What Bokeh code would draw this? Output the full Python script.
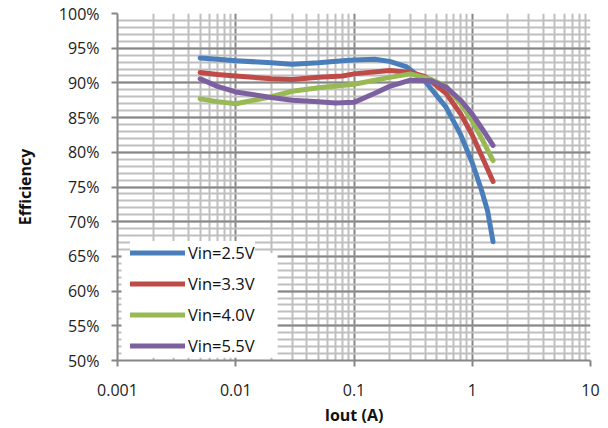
from bokeh.plotting import figure
from bokeh.models import FixedTicker, PrintfTickFormatter, CustomJSTickFormatter, Range1d, BoxAnnotation
from bokeh.embed import file_html
from bokeh.resources import INLINE

# ---- data ----
iout_25 = [0.005, 0.007, 0.01, 0.02, 0.03, 0.05, 0.08, 0.1, 0.15, 0.2, 0.28, 0.4, 0.6, 0.8, 1.0, 1.2, 1.35, 1.5]
eff_25 = [93.6, 93.4, 93.2, 92.9, 92.7, 92.9, 93.2, 93.3, 93.4, 93.1, 92.3, 90.2, 86.5, 82.5, 78.5, 74.5, 71.5, 67.1]

iout_33 = [0.005, 0.007, 0.01, 0.02, 0.03, 0.05, 0.08, 0.1, 0.2, 0.3, 0.4, 0.6, 0.8, 1.0, 1.2, 1.5]
eff_33 = [91.5, 91.2, 91.0, 90.6, 90.5, 90.8, 91.0, 91.3, 91.8, 91.5, 90.9, 88.5, 85.5, 82.5, 79.5, 75.8]

iout_40 = [0.005, 0.007, 0.01, 0.02, 0.03, 0.05, 0.1, 0.2, 0.3, 0.45, 0.6, 0.8, 1.0, 1.2, 1.5]
eff_40 = [87.7, 87.3, 87.0, 88.0, 88.8, 89.3, 89.8, 90.8, 91.3, 90.5, 89.5, 87.0, 84.5, 82.0, 78.8]

iout_55 = [0.005, 0.007, 0.01, 0.02, 0.03, 0.05, 0.07, 0.1, 0.15, 0.2, 0.3, 0.45, 0.6, 0.8, 1.0, 1.2, 1.5]
eff_55 = [90.6, 89.5, 88.7, 87.9, 87.5, 87.3, 87.1, 87.2, 88.5, 89.5, 90.4, 90.3, 89.4, 87.5, 85.5, 83.5, 81.0]

series_labels = ["Vin=2.5V", "Vin=3.3V", "Vin=4.0V", "Vin=5.5V"]
x_ticks = [0.001, 0.01, 0.1, 1, 10]
y_ticks = [50, 55, 60, 65, 70, 75, 80, 85, 90, 95, 100]

FONT = "Open Sans"

p = figure(width=608, height=428, x_axis_type="log",
           x_range=Range1d(0.001, 10), y_range=Range1d(50, 100),
           output_backend="svg", toolbar_location=None,
           min_border_left=117, min_border_right=18, min_border_top=13, min_border_bottom=67)
p.outline_line_color = None
p.background_fill_color = "white"
p.border_fill_color = "white"

x_minor = [m * d for d in [0.001, 0.01, 0.1, 1] for m in range(2, 10)]
y_minor = list(range(50, 101))
p.xaxis.ticker = FixedTicker(ticks=x_ticks, minor_ticks=x_minor)
p.yaxis.ticker = FixedTicker(ticks=y_ticks, minor_ticks=y_minor)
p.xaxis.formatter = CustomJSTickFormatter(code="return tick.toString();")
p.yaxis.formatter = PrintfTickFormatter(format="%d%%")

for g in (p.xgrid, p.ygrid):
    g.grid_line_color = "#878787"
    g.grid_line_width = 2
    g.minor_grid_line_color = "#BFBFBF"
    g.minor_grid_line_width = 2

for ax in (p.xaxis, p.yaxis):
    ax.axis_line_color = "#868686"
    ax.axis_line_width = 2
    ax.major_tick_line_color = "#868686"
    ax.major_tick_line_width = 2
    ax.major_tick_out = 6
    ax.major_tick_in = 0
    ax.minor_tick_line_color = None
    ax.major_label_text_font = FONT
    ax.major_label_text_font_size = "16px"
    ax.major_label_text_color = "#222222"
    ax.axis_label_text_font = FONT
    ax.axis_label_text_font_size = "16px"
    ax.axis_label_text_font_style = "bold"
    ax.axis_label_text_color = "#111111"

p.xaxis.axis_label = "Iout (A)"
p.yaxis.axis_label = "Efficiency"
p.yaxis.major_label_standoff = 12
p.xaxis.major_label_standoff = 17
p.yaxis.axis_label_standoff = 20
p.xaxis.axis_label_standoff = 5

# white legend panel behind the legend entries
p.add_layout(BoxAnnotation(left=0.00108, right=0.0226, bottom=50.4, top=65.5,
                           fill_color="white", fill_alpha=1.0, line_color=None,
                           level="annotation"))

colors = ["#4A7EBB", "#BE4B48", "#98B954", "#7D60A0"]
data = [(iout_25, eff_25), (iout_33, eff_33), (iout_40, eff_40), (iout_55, eff_55)]
for (xs, ys), c, lab in zip(data, colors, series_labels):
    p.line(xs, ys, line_color=c, line_width=5, line_cap="round", line_join="round", legend_label=lab)

lg = p.legend[0]
lg.location = (13, 3)
lg.padding = 3
lg.margin = 0
lg.spacing = 8
lg.glyph_width = 55
lg.glyph_height = 19
lg.label_standoff = 3
lg.label_text_font = FONT
lg.label_text_font_size = "16.5px"
lg.label_text_color = "#111111"
lg.border_line_color = None
lg.background_fill_color = "white"
lg.background_fill_alpha = 1.0

open("out.html", "w").write(file_html(p, INLINE))
